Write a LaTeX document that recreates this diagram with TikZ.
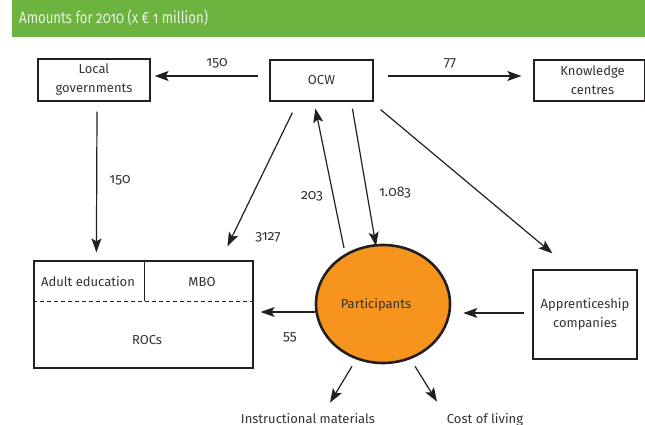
\documentclass[tikz,border=0pt]{standalone}
\usepackage{fontspec}
\setmainfont{Fira Sans}[Numbers=OldStyle]
\newfontfamily\titlefont{Fira Sans}[Numbers=OldStyle, FakeStretch=0.8]
\usetikzlibrary{arrows.meta,calc,shapes.geometric}
\definecolor{barGreen}{HTML}{6DB33F}
\definecolor{barText}{HTML}{EAF3E2}
\definecolor{inkLine}{HTML}{231F20}
\definecolor{inkText}{HTML}{333333}
\definecolor{partOrange}{HTML}{F7941D}
\tikzset{
  box/.style={draw=inkLine, line width=1.2pt, fill=white, inner sep=0pt, align=center,
    font=\fontsize{13}{19}\selectfont, text=inkText},
  txt/.style={inner sep=0pt, font=\fontsize{13}{19}\selectfont, text=inkText, align=center},
  num/.style={inner sep=0pt, font=\fontsize{14}{16}\selectfont, text=inkText},
  flow/.style={draw=inkLine, line width=1.2pt,
    -{Stealth[length=14pt,width=10pt,inset=3pt]}},
}
\begin{document}
\begin{tikzpicture}[x=1pt,y=-1pt]
\useasboundingbox (0,0) rectangle (645,425);

% title bar
\fill[barGreen] (12,0) rectangle (645,37);
\node[anchor=base west, inner sep=0pt, text=barText,
  font=\titlefont\fontsize{16.5}{18}\selectfont] (title) at (19,24) {Amounts for 2010 (x € 1 million)};

% boxes
\node[box, minimum width=112pt, minimum height=42pt] (local) at (94,80) {Local\\governments};
\node[box, minimum width=103pt, minimum height=41pt] (ocw) at (321.5,80.5) {OCW};
\node[box, minimum width=111pt, minimum height=41pt] (know) at (589.5,80.5) {\hspace*{6pt}Knowledge\\\hspace*{6pt}centres};
\node[box, minimum width=219pt, minimum height=107pt] (roc) at (143.5,314.5) {};
\node[box, minimum width=104pt, minimum height=89pt] (app) at (585,314.5) {Apprenticeship\\companies};

% subdivisions of the ROC box
\draw[inkLine, line width=1.2pt] ($(roc.north west)+(111,0)$) -- ($(roc.north west)+(111,41)$);
\draw[inkLine, line width=1.2pt, dash pattern=on 4pt off 3pt]
  ($(roc.north west)+(0,41)$) -- ($(roc.north east)+(0,41)$);
\node[txt] (adult) at (88,282) {Adult education};
\node[txt] (mbo) at (202,282) {MBO};
\node[txt] (rocs) at (147,340) {ROCs};

% participants
\node[ellipse, draw=inkLine, line width=2.6pt, fill=partOrange,
  minimum width=134pt, minimum height=118pt, inner sep=0pt] (part) at (383,304) {};
\node[txt] (ptext) at (376,305) {Participants};

% outgoing destinations
\node[txt, anchor=base] (instr) at (308,423) {Instructional materials};
\node[txt, anchor=base] (cost) at (485,423) {Cost of living};

% flows
\draw[flow] ($(ocw.west)+(-11,-4.5)$) -- ($(local.east)+(4,-4)$);
\draw[flow] ($(ocw.east)+(14,-4.5)$) -- ($(know.west)+(-12,-4.5)$);
\draw[flow] ($(local.south)+(3,10)$) -- ($(roc.north west)+(63,-8)$);
\draw[flow] ($(ocw.south west)+(23,11)$) -- ($(roc.north west)+(194,-14)$);
\draw[flow] ($(part.center)+(-39,-56)$) -- ($(ocw.south west)+(46,7)$);
\draw[flow] ($(ocw.south west)+(83,7)$) -- ($(part.center)+(-7,-58)$);
\draw[flow] ($(ocw.south east)+(7,8)$) -- ($(app.north west)+(20,-16)$);
\draw[flow] ($(app.west)+(-8,-1.5)$) -- ($(part.east)+(12,9)$);
\draw[flow] ($(part.west)+(0,8)$) -- ($(roc.east)+(7,-2.5)$);
\draw[flow] ($(part.south)+(-31,2)$) -- ($(instr.north)+(22,-10)$);
\draw[flow] ($(part.south)+(32,2)$) -- ($(cost.north)+(-48,-11)$);

% amounts
\node[num] (n1) at (217,63) {150};
\node[num] (n2) at (450,63) {77};
\node[num] (n3) at (120,180) {150};
\node[num] (n4) at (268,237) {3127};
\node[num] (n5) at (312,196) {203};
\node[num] (n6) at (395,193) {1.083};
\node[num] (n7) at (290,337) {55};
\end{tikzpicture}
\end{document}
